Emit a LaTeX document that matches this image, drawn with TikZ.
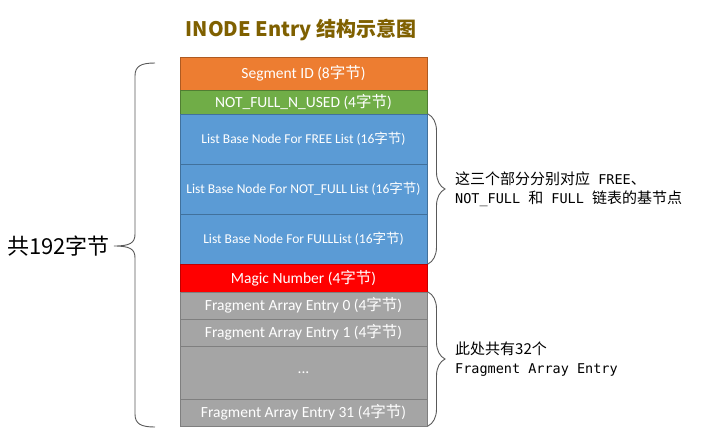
\documentclass[tikz,border=0pt]{standalone}
\usepackage{fontspec}
\setmainfont{Noto Sans CJK SC}
\newfontfamily\cjk{Noto Sans CJK SC}
\newfontfamily\boxfont{Carlito}
\newfontfamily\monofont{DejaVu Sans Mono}
\usetikzlibrary{positioning,decorations.pathreplacing}
\definecolor{segfill}{HTML}{ED7D31}
\definecolor{segedge}{HTML}{AE5A21}
\definecolor{usedfill}{HTML}{70AD47}
\definecolor{usededge}{HTML}{507E32}
\definecolor{listfill}{HTML}{5B9BD5}
\definecolor{listedge}{HTML}{41719C}
\definecolor{magicfill}{HTML}{FF0000}
\definecolor{magicedge}{HTML}{C00000}
\definecolor{fragfill}{HTML}{A5A5A5}
\definecolor{fragedge}{HTML}{7F7F7F}
\definecolor{titlebrown}{HTML}{7F6000}
\definecolor{bracegray}{HTML}{595959}
\newcommand\zj{{\cjk 字节}}
\newcommand\lat[1]{{\monofont\fontsize{13.5}{19}\selectfont #1}}

\begin{document}
\begin{tikzpicture}[x=1pt, y=-1pt,
  node distance=0pt,
  field/.style={draw, line width=0.8pt, minimum width=247pt, inner sep=0pt, outer sep=0pt, text=white, font=\boxfont\fontsize{15.5}{18}\selectfont},
  listfield/.style={field, fill=listfill, draw=listedge, minimum height=50pt, font=\boxfont\fontsize{13.5}{17}\selectfont},
  fragfield/.style={field, fill=fragfill, draw=fragedge, minimum height=27pt},
  note/.style={align=left, inner sep=0pt, font=\cjk\fontsize{15}{19}\selectfont},
  bracket/.style={draw=bracegray, line width=0.9pt, decorate, decoration={brace, amplitude=#1}}]
\useasboundingbox (0,0) rectangle (720,432);
\node[font=\bfseries\fontsize{20}{24}\selectfont, text=titlebrown] (title) at (301,30) {INODE Entry 结构示意图};
% the entry, field after field
\node[field, fill=segfill, draw=segedge, minimum height=33pt] (seg) at (303.5,73.5) {Segment ID (8\zj)};
\node[field, fill=usedfill, draw=usededge, minimum height=24pt, below=of seg] (used) {NOT\_FULL\_N\_USED (4\zj)};
\node[listfield, below=of used] (lfree) {List Base Node For FREE List (16\zj)};
\node[listfield, below=of lfree] (lnotfull) {List Base Node For NOT\_FULL List (16\zj)};
\node[listfield, below=of lnotfull] (lfull) {List Base Node For FULLList (16\zj)};
\node[field, fill=magicfill, draw=magicedge, minimum height=28pt, below=of lfull] (magic) {Magic Number (4\zj)};
\node[fragfield, below=of magic] (frag0) {Fragment Array Entry 0 (4\zj)};
\node[fragfield, below=of frag0] (frag1) {Fragment Array Entry 1 (4\zj)};
\node[fragfield, minimum height=53pt, below=of frag1] (fragdots) {...};
\node[fragfield, below=of fragdots] (frag31) {Fragment Array Entry 31 (4\zj)};
% the big brace on the left
\draw[bracegray, line width=0.9pt] (155,63) .. controls (141,63) and (135,66) .. (135,76) -- (135,234)
  .. controls (135,243) and (130,246) .. (114,246) .. controls (130,246) and (135,249) .. (135,258)
  -- (135,414) .. controls (135,424) and (141,427) .. (155,427);
\coordinate (ltip) at (114,246);
\node[font=\cjk\fontsize{22}{24}\selectfont, inner sep=0pt, left=4pt of ltip] (total) {共192字节};
% braces on the right and their notes
\draw[bracket=17pt] ([xshift=1pt]lfree.north east) -- ([xshift=1pt]lfull.south east);
\node[note, right=28pt of lnotfull] (listnote) {这三个部分分别对应\lat{ FREE}、\\\lat{NOT\_FULL }和\lat{ FULL }链表的基节点};
\draw[bracket=17pt] ([xshift=1pt]frag0.north east) -- ([xshift=1pt]frag31.south east);
\path (frag0.north east) -- (frag31.south east) coordinate[midway] (fmid);
\node[note, right=28pt of fmid] (fragnote) {此处共有32个\\\lat{Fragment Array Entry}};
\end{tikzpicture}
\end{document}
